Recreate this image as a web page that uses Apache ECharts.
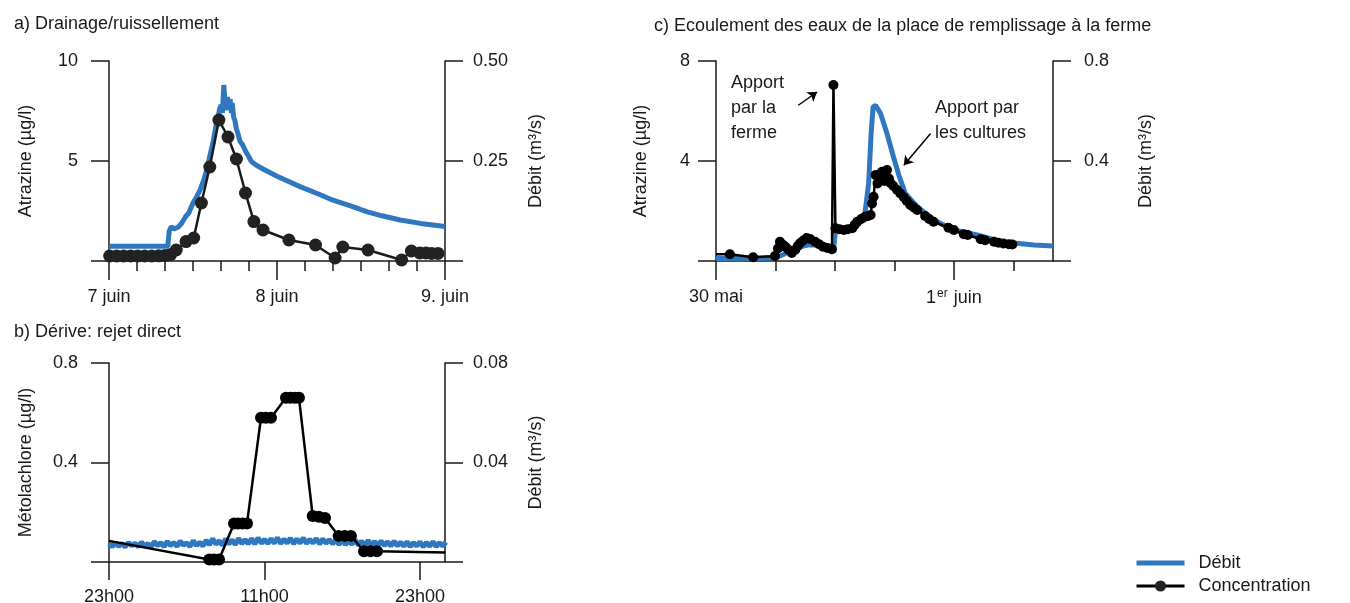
<!DOCTYPE html>
<html>
<head>
<meta charset="utf-8">
<script src="https://cdn.jsdelivr.net/npm/echarts@6/dist/echarts.min.js"></script>
<style>
html,body{margin:0;padding:0;background:#fff}
#main{width:1350px;height:603px}
</style>
</head>
<body>
<div id="main"></div>
<script>
// a) drainage / ruissellement : heures depuis le 7 juin 00h00
var debitA = [[0,0.037],[8.4,0.037],[8.6,0.075],[8.9,0.086],[9.3,0.080],[9.9,0.085],[10.4,0.095],[10.9,0.110],
  [11.4,0.120],[12.0,0.145],[12.5,0.160],[13.0,0.177],[13.5,0.200],[14.0,0.230],[14.5,0.270],[14.9,0.300],
  [15.3,0.340],[15.6,0.360],[15.8,0.380],[16.0,0.390],[16.2,0.370],[16.4,0.440],[16.55,0.400],[16.7,0.377],
  [16.9,0.410],[17.1,0.385],[17.3,0.405],[17.5,0.370],[17.6,0.395],[17.8,0.360],[18.0,0.350],[18.2,0.330],
  [18.4,0.320],[18.7,0.300],[19.1,0.290],[19.5,0.275],[20.0,0.260],[20.3,0.250],[20.6,0.245],[21.0,0.240],
  [22.0,0.230],[24.0,0.212],[27.3,0.186],[30.0,0.167],[32.0,0.152],[34.5,0.138],[36.9,0.123],[39.0,0.113],
  [41.6,0.1025],[44.5,0.094],[48,0.086]];
var concA = [[0.1,0.25],[1.1,0.25],[2.1,0.25],[3.1,0.25],[4.1,0.25],[5.1,0.25],[6.1,0.25],[7.1,0.26],[8.0,0.28],
  [8.8,0.32],[9.6,0.55],[11.0,0.97],[12.1,1.15],[13.2,2.9],[14.4,4.7],[15.7,7.05],[17.0,6.2],[18.2,5.1],
  [19.5,3.4],[20.7,1.97],[22.0,1.55],[25.7,1.05],[29.5,0.8],[32.3,0.15],[33.4,0.7],[37.0,0.55],[41.8,0.05],
  [43.2,0.5],[44.4,0.4],[45.3,0.4],[46.1,0.38],[47.0,0.38]];
var ticksA = {0: '7 juin', 24: '8 juin', 48: '9. juin'};

// b) dérive : heures depuis 23h00, débit relevé tous les quarts d'heure
var stepB = 0.25;
var debitB = [0.0074,0.0062,0.0078,0.0063,0.0075,0.0060,0.0079,0.0065,0.0076,0.0061,
  0.0080,0.0064,0.0074,0.0060,0.0082,0.0066,0.0078,0.0062,0.0083,0.0065,
  0.0079,0.0063,0.0084,0.0067,0.0077,0.0062,0.0086,0.0066,0.0080,0.0064,
  0.0088,0.0069,0.0094,0.0071,0.0086,0.0067,0.0093,0.0072,0.0089,0.0070,
  0.0095,0.0074,0.0090,0.0073,0.0094,0.0072,0.0097,0.0075,0.0091,0.0074,
  0.0094,0.0075,0.0098,0.0074,0.0092,0.0076,0.0096,0.0073,0.0093,0.0075,
  0.0097,0.0074,0.0091,0.0076,0.0095,0.0072,0.0093,0.0075,0.0090,0.0073,
  0.0088,0.0070,0.0091,0.0069,0.0086,0.0071,0.0089,0.0068,0.0084,0.0066,
  0.0087,0.0067,0.0083,0.0065,0.0085,0.0066,0.0082,0.0064,0.0084,0.0065,
  0.0080,0.0063,0.0082,0.0062,0.0078,0.0064,0.0081,0.0061,0.0079,0.0063,
  0.0082,0.0062,0.0078,0.0064,0.0080];
var concB = [[0,0.085],[7.74,0.01],[8.1,0.01],[8.49,0.01],[9.65,0.155],[9.95,0.155],[10.3,0.155],[10.65,0.155],
  [11.73,0.58],[12.11,0.58],[12.5,0.58],[13.66,0.66],[14.0,0.66],[14.35,0.66],[14.66,0.66],
  [15.72,0.185],[16.19,0.182],[16.67,0.177],[17.72,0.105],[18.19,0.105],[18.67,0.105],
  [19.68,0.043],[20.18,0.043],[20.68,0.043],[25.95,0.038]];
var ticksB = {0: '23h00', 12: '11h00', 24: '23h00'};

// c) place de remplissage : heures depuis le 30 mai 00h00
var debitC = [[0,0.010],[11.9,0.012],[13.5,0.025],[14.0,0.030],[17.0,0.057],[18.5,0.064],[20.2,0.064],[22.0,0.050],
  [23.0,0.040],[23.5,0.037],[23.8,0.060],[24.1,0.117],[26.1,0.124],[27.5,0.140],[29.4,0.175],[30.0,0.184],
  [30.8,0.310],[31.3,0.510],[31.7,0.616],[32.2,0.623],[33.2,0.590],[34.5,0.510],[35.8,0.417],[36.9,0.343],
  [38.2,0.270],[40.6,0.217],[43.9,0.164],[48.0,0.124],[52.7,0.104],[57.5,0.077],[64.2,0.064],[68,0.060]];
var concC = [[0,0.27],[2.8,0.27],[7.5,0.15],[11.9,0.2],[12.5,0.5],[12.9,0.77],[13.5,0.65],[14.0,0.57],[14.6,0.45],
  [15.3,0.32],[16.0,0.45],[16.5,0.6],[17.0,0.72],[17.6,0.82],[18.3,0.92],[19.0,0.88],[20.0,0.77],[20.8,0.67],
  [21.6,0.57],[22.5,0.52],[23.4,0.47],[23.7,7.04],[24.1,1.31],[24.9,1.27],[25.8,1.24],[26.6,1.27],[27.5,1.31],
  [28.0,1.45],[28.5,1.57],[29.3,1.68],[30.1,1.77],[30.7,1.8],[31.2,1.84],[31.5,2.3],[31.8,2.57],[32.2,3.44],
  [32.6,3.1],[33.0,3.45],[33.5,3.57],[34.0,3.2],[34.5,3.64],[34.9,3.3],[35.2,3.12],[35.8,3.0],[36.5,2.85],
  [37.2,2.7],[37.9,2.55],[38.5,2.4],[39.2,2.24],[39.9,2.14],[40.6,2.04],[42.2,1.8],[43.0,1.68],[43.9,1.57],
  [46.9,1.33],[48.0,1.24],[50.0,1.07],[50.8,1.04],[53.4,0.87],[54.3,0.83],[56.1,0.77],[57.0,0.73],
  [58.0,0.7],[59.1,0.67],[59.8,0.66]];
var ticksC = {0: '30 mai', 48: '1{sup|er} juin'};
// flèches des annotations (coordonnées du graphique c)
var arrowFerme = [[16.6,6.23],[20.4,6.76]];
var arrowCultures = [[43.3,5.1],[37.9,3.83]];

var FONT = 'Liberation Sans, Arial, sans-serif';
var INK = '#1a1a1a';
var BLUE = '#2f78c0';

function yAx(grid, pos, max, interval, digits, name, gap, margin) {
  return {
    type: 'value', gridIndex: grid, position: pos, min: 0, max: max, interval: interval,
    axisLine: {show: true, onZero: false, lineStyle: {color: INK, width: 1.5}},
    axisTick: {show: true, length: 18, lineStyle: {color: INK, width: 1.5}},
    splitLine: {show: false},
    axisLabel: {margin: margin, color: INK, fontSize: 18, fontFamily: FONT,
      formatter: function (v) { return v === 0 ? '' : v.toFixed(digits); }},
    name: name, nameLocation: 'middle', nameGap: gap, nameRotate: 90,
    nameTextStyle: {color: INK, fontSize: 18, fontFamily: FONT}
  };
}

// pas de marqueur aux points de bord (début / fin de tracé)
function bare(list, idx) {
  return list.map(function (p, i) {
    return idx.indexOf(i) >= 0 ? {value: p, symbol: 'none'} : p;
  });
}

var lbl = {color: INK, fontSize: 18, fontFamily: FONT, margin: 27};

var option = {
  animation: false,
  backgroundColor: '#fff',
  title: [
    {text: 'a) Drainage/ruissellement', left: 9, top: 10},
    {text: 'b) Dérive: rejet direct', left: 9, top: 318},
    {text: 'c) Ecoulement des eaux de la place de remplissage à la ferme', left: 649, top: 12}
  ].map(function (t) {
    t.textStyle = {fontSize: 18, fontWeight: 'normal', color: INK, fontFamily: FONT};
    return t;
  }),
  legend: {
    orient: 'vertical', left: 1129, top: 549, itemWidth: 48, itemHeight: 14, itemGap: 5,
    textStyle: {fontSize: 18, color: INK, fontFamily: FONT, padding: [0, 0, 0, 9]},
    data: [
      {name: 'Débit', itemStyle: {opacity: 0}, lineStyle: {width: 5, color: BLUE}},
      {name: 'Concentration', lineStyle: {width: 3, color: '#000'}}
    ]
  },
  grid: [
    {left: 109, top: 61, width: 336, height: 200, outerBoundsMode: 'none'},
    {left: 109, top: 363, width: 336, height: 199, outerBoundsMode: 'none'},
    {left: 716, top: 61, width: 337, height: 200, outerBoundsMode: 'none'}
  ],
  xAxis: [
    {type: 'value', gridIndex: 0, min: 0, max: 48, interval: 24,
      axisLine: {onZero: false, lineStyle: {color: INK, width: 1.5}},
      axisTick: {length: 19, lineStyle: {color: INK, width: 1.5}},
      minorTick: {show: true, splitNumber: 6, length: 10, lineStyle: {color: INK, width: 1.5}},
      splitLine: {show: false}, minorSplitLine: {show: false},
      axisLabel: Object.assign({}, lbl, {showMinLabel: true, showMaxLabel: true,
        formatter: function (v) { return ticksA[v] || ''; }})},
    {type: 'value', gridIndex: 1, min: 0, max: 25.93,
      axisLine: {onZero: false, lineStyle: {color: INK, width: 1.5}},
      axisTick: {length: 18, customValues: [0, 12, 24], lineStyle: {color: INK, width: 1.5}},
      splitLine: {show: false},
      axisLabel: Object.assign({}, lbl, {margin: 26, customValues: [0, 12, 24],
        formatter: function (v) { return ticksB[v] || ''; }})},
    {type: 'value', gridIndex: 2, min: 0, max: 68,
      axisLine: {onZero: false, lineStyle: {color: INK, width: 1.5}},
      axisTick: {length: 10, customValues: [0, 12, 24, 36, 48, 60], lineStyle: {color: INK, width: 1.5}},
      splitLine: {show: false}, axisLabel: {show: false}},
    {type: 'value', gridIndex: 2, min: 0, max: 68, position: 'bottom',
      axisLine: {show: false, onZero: false},
      axisTick: {length: 19, customValues: [0, 48], lineStyle: {color: INK, width: 1.5}},
      splitLine: {show: false},
      axisLabel: Object.assign({}, lbl, {customValues: [0, 48],
        formatter: function (v) { return ticksC[v] || ''; },
        rich: {sup: {fontSize: 12, fontFamily: FONT, color: INK, verticalAlign: 'top', padding: [0, 1, 8, 1]}}})}
  ],
  yAxis: [
    yAx(0, 'left', 10, 5, 0, 'Atrazine (µg/l)', 74, 31),
    yAx(0, 'right', 0.5, 0.25, 2, 'Débit (m³/s)', 82, 28),
    yAx(1, 'left', 0.8, 0.4, 1, 'Métolachlore (µg/l)', 74, 31),
    yAx(1, 'right', 0.08, 0.04, 2, 'Débit (m³/s)', 82, 28),
    yAx(2, 'left', 8, 4, 0, 'Atrazine (µg/l)', 66, 26),
    yAx(2, 'right', 0.8, 0.4, 1, 'Débit (m³/s)', 84, 31)
  ],
  series: [
    {name: 'Débit', type: 'line', xAxisIndex: 0, yAxisIndex: 1, data: debitA, symbol: 'none',
      lineStyle: {color: BLUE, width: 5}, itemStyle: {color: BLUE}},
    {name: 'Concentration', type: 'line', xAxisIndex: 0, yAxisIndex: 0, data: concA,
      symbol: 'circle', symbolSize: 13, showAllSymbol: true,
      lineStyle: {color: INK, width: 2.5}, itemStyle: {color: '#222'}},
    {name: 'Débit', type: 'line', xAxisIndex: 1, yAxisIndex: 3, symbol: 'none',
      data: debitB.map(function (v, i) { return [i * stepB, v]; }),
      lineStyle: {color: BLUE, width: 5}, itemStyle: {color: BLUE}},
    {name: 'Concentration', type: 'line', xAxisIndex: 1, yAxisIndex: 2,
      data: bare(concB, [0, concB.length - 1]),
      symbol: 'circle', symbolSize: 12, showAllSymbol: true,
      lineStyle: {color: '#000', width: 2.5}, itemStyle: {color: '#000'}},
    {name: 'Débit', type: 'line', xAxisIndex: 2, yAxisIndex: 5, data: debitC, symbol: 'none',
      lineStyle: {color: BLUE, width: 5}, itemStyle: {color: BLUE}},
    {name: 'Concentration', type: 'line', xAxisIndex: 2, yAxisIndex: 4, data: bare(concC, [0]),
      symbol: 'circle', symbolSize: 10, showAllSymbol: true,
      lineStyle: {color: '#000', width: 2.5}, itemStyle: {color: '#000'},
      markLine: {
        silent: true, symbol: ['none', 'arrow'], symbolSize: 9,
        lineStyle: {color: '#000', width: 1.5, type: 'solid'}, label: {show: false},
        data: [
          [{coord: arrowFerme[0]}, {coord: arrowFerme[1]}],
          [{coord: arrowCultures[0]}, {coord: arrowCultures[1]}]
        ]
      }}
  ],
  graphic: [
    {type: 'text', left: 731, top: 71, style: {text: 'Apport\npar la\nferme', font: '18px ' + FONT, lineHeight: 25, fill: INK}},
    {type: 'text', left: 935, top: 96, style: {text: 'Apport par\nles cultures', font: '18px ' + FONT, lineHeight: 25, fill: INK}}
  ]
};

var chart = echarts.init(document.getElementById('main'));
chart.setOption(option);
</script>
</body>
</html>
